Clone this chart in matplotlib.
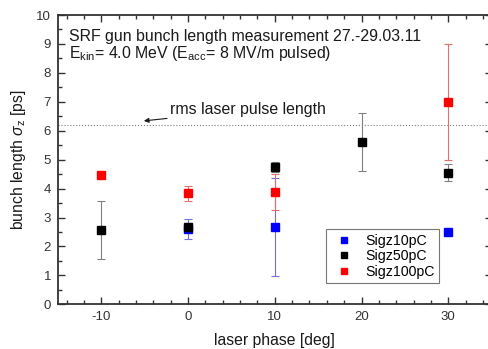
import numpy as np
import matplotlib.pyplot as plt
from matplotlib.lines import Line2D
from matplotlib.ticker import MultipleLocator

plt.rcParams['font.family'] = ['Liberation Sans', 'DejaVu Sans']
plt.rcParams['mathtext.fontset'] = 'custom'
plt.rcParams['mathtext.rm'] = 'Liberation Sans'
plt.rcParams['mathtext.it'] = 'Liberation Sans:italic'
plt.rcParams['axes.unicode_minus'] = False

# bunch length sigma_z [ps] vs laser phase [deg] for three bunch charges
phase_10pC = [0, 10, 30]
sigz_10pC = [2.6, 2.67, 2.5]
err_10pC = [0.35, 1.68, 0.0]

phase_50pC = [-10, 0, 10, 20, 30]
sigz_50pC = [2.58, 2.68, 4.75, 5.6, 4.55]
err_50pC = [1.0, 0.0, 0.18, 1.0, 0.3]

phase_100pC = [-10, 0, 10, 30]
sigz_100pC = [4.48, 3.83, 3.89, 7.0]
err_100pC = [0.0, 0.26, 0.62, 2.0]

laser_length = 6.2

fig = plt.figure(figsize=(4.88, 3.49), dpi=100)
ax = fig.add_axes([58/488, (349-304.3)/349, 433.6/488, 289.3/349])

series = [
    (phase_10pC, sigz_10pC, err_10pC, '#0000ff', '#7070d8', 'Sigz10pC'),
    (phase_50pC, sigz_50pC, err_50pC, 'black', '#808080', 'Sigz50pC'),
    (phase_100pC, sigz_100pC, err_100pC, '#ff0000', '#e07070', 'Sigz100pC'),
]
handles = []
for x, y, e, c, ec, name in series:
    ax.errorbar(x, y, yerr=e, fmt='s', color=c, ms=5.5, ecolor=ec,
                elinewidth=0.8, capsize=3, capthick=0.8)
    handles.append(Line2D([], [], marker='s', ls='none', color=c, ms=4.5, label=name))

ax.axhline(laser_length, color='#808080', ls=':', lw=0.8)
ax.annotate('rms laser pulse length', xy=(-5.1, 6.34), xytext=(-2.1, 6.72),
            fontsize=11.4, va='center', ha='left', color='#1a1a1a',
            arrowprops=dict(arrowstyle='-|>', color='#1a1a1a', lw=0.8,
                            mutation_scale=7, shrinkA=0, shrinkB=0))

ax.text(-13.7, 9.27, 'SRF gun bunch length measurement 27.-29.03.11',
        fontsize=11.4, va='center', color='#1a1a1a')
ax.text(-13.7, 8.67, r'E$_{\mathrm{kin}}$= 4.0 MeV (E$_{\mathrm{acc}}$= 8 MV/m pulsed)',
        fontsize=11.4, va='center', color='#1a1a1a')

ax.set_xlim(-15, 35)
ax.set_ylim(0, 10)
ax.xaxis.set_major_locator(MultipleLocator(10))
ax.xaxis.set_minor_locator(MultipleLocator(2))
ax.yaxis.set_major_locator(MultipleLocator(1))
ax.yaxis.set_minor_locator(MultipleLocator(0.5))
ax.tick_params(which='both', direction='in', top=True, right=True,
               labelsize=9.5, colors='#333333', width=1.0)
ax.tick_params(which='major', length=5, pad=5)
ax.tick_params(which='minor', length=3)
for s in ax.spines.values():
    s.set_linewidth(1.3)
    s.set_color('#333333')

ax.set_xlabel('laser phase [deg]', fontsize=11.3, color='#1a1a1a', labelpad=7)
ax.set_ylabel(r'bunch length $\sigma_{\mathrm{z}}$ [ps]', fontsize=11.3,
              color='#1a1a1a', labelpad=6)

leg = ax.legend(handles=handles, loc='lower left',
                bbox_to_anchor=((325.7-58)/433.6, (304.3-283.3)/289.3),
                fontsize=10.2, frameon=True, fancybox=False, edgecolor='#555555',
                borderpad=0.3, handletextpad=0.5, labelspacing=0.12,
                handlelength=2.0, borderaxespad=0)
leg.get_frame().set_linewidth(0.8)

fig.savefig('out.png', dpi=100)
